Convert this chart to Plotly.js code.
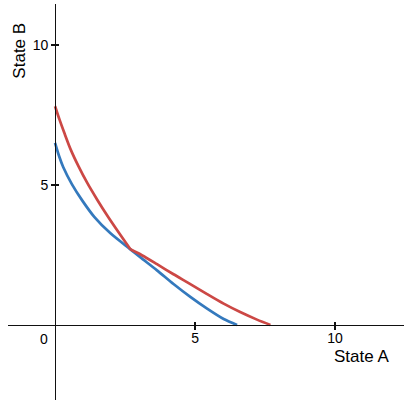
<!DOCTYPE html>
<html>
<head>
<meta charset="utf-8">
<script src="https://cdn.plot.ly/plotly-3.0.1.min.js"></script>
<style>html,body{margin:0;padding:0;background:#fff;}#chart{width:404px;height:403px;}</style>
</head>
<body>
<div id="chart"></div>
<script>
// Red curve; it has a corner where it touches the blue curve
const redX = [0, 0.16, 0.33, 0.56, 0.84, 1.15, 1.50, 1.88, 2.28, 2.69, 3.10, 3.64, 4.23, 4.83, 5.43, 6.02, 6.61, 7.21, 7.69];
const redY = [7.81, 7.33, 6.86, 6.26, 5.66, 5.07, 4.48, 3.88, 3.29, 2.70, 2.49, 2.17, 1.81, 1.46, 1.10, 0.76, 0.46, 0.19, 0];
const redCornerIndex = 9;
// Blue curve
const blueX = [0, 0.14, 0.29, 0.60, 0.98, 1.40, 1.97, 2.69, 3.04, 3.64, 4.23, 4.83, 5.43, 6.02, 6.50];
const blueY = [6.50, 6.04, 5.64, 5.03, 4.43, 3.86, 3.28, 2.70, 2.42, 1.95, 1.46, 1.00, 0.58, 0.21, 0];
const xTicks = [5, 10];
const yTicks = [5, 10];
const originLabel = "0";
const xLabel = "State A";
const yLabel = "State B";

const xRange = [-1.68, 12.46];
const yRange = [-2.68, 11.46];
const xPos = (0 - xRange[0]) / (xRange[1] - xRange[0]);
const yPos = (0 - yRange[0]) / (yRange[1] - yRange[0]);

const font = {family: "Liberation Sans, Arial, sans-serif", size: 14, color: "#000"};
const titleFont = {family: "Liberation Sans, Arial, sans-serif", size: 17, color: "#000"};

const redColor = "#cc4845";
const blueColor = "#3479bd";
const lw = 2.7;

const traces = [
  {x: blueX, y: blueY, mode: "lines", line: {color: blueColor, width: lw, shape: "spline", smoothing: 0.8}, hoverinfo: "skip"},
  {x: redX.slice(0, redCornerIndex + 1), y: redY.slice(0, redCornerIndex + 1), mode: "lines",
    line: {color: redColor, width: lw, shape: "spline", smoothing: 0.8}, hoverinfo: "skip"},
  {x: redX.slice(redCornerIndex), y: redY.slice(redCornerIndex), mode: "lines",
    line: {color: redColor, width: lw, shape: "spline", smoothing: 0.8}, hoverinfo: "skip"},
  {x: [null], y: [null], xaxis: "x2", yaxis: "y2", hoverinfo: "skip"}
];

const axisCommon = {showgrid: false, zeroline: false, showline: true, linecolor: "#111", linewidth: 1.3,
  tickcolor: "#111", tickwidth: 1.3, ticklen: 4, tickfont: font, fixedrange: true};

const layout = {
  width: 404, height: 403,
  margin: {l: 8, r: 0, t: 4, b: 3, pad: 0},
  paper_bgcolor: "#fff", plot_bgcolor: "#fff",
  showlegend: false,
  xaxis: Object.assign({}, axisCommon, {range: xRange, anchor: "free", position: yPos, ticks: "outside",
    tickmode: "array", tickvals: xTicks, ticktext: xTicks.map(String), ticklabelstandoff: -4}),
  yaxis: Object.assign({}, axisCommon, {range: yRange, anchor: "free", position: xPos, ticks: "outside",
    tickmode: "array", tickvals: yTicks, ticktext: yTicks.map(String)}),
  xaxis2: Object.assign({}, axisCommon, {range: xRange, overlaying: "x", anchor: "free", position: yPos, ticks: "inside",
    ticklen: 3, showline: false, tickmode: "array", tickvals: xTicks, showticklabels: false}),
  yaxis2: Object.assign({}, axisCommon, {range: yRange, overlaying: "y", anchor: "free", position: xPos, ticks: "inside",
    ticklen: 3, showline: false, tickmode: "array", tickvals: yTicks, showticklabels: false}),
  annotations: [
    {x: 0, y: 0, xref: "x", yref: "y", text: originLabel, showarrow: false, xanchor: "right", yanchor: "top",
      xshift: -5, yshift: -4, font: font},
    {x: 12.0, y: 0, xref: "x", yref: "y", text: xLabel, showarrow: false, xanchor: "right", yanchor: "top",
      yshift: -20, font: titleFont},
    {x: 0, y: 10.85, xref: "x", yref: "y", text: yLabel, showarrow: false, textangle: -90, xanchor: "right", yanchor: "top",
      xshift: -24, font: titleFont}
  ]
};

Plotly.newPlot("chart", traces, layout, {displayModeBar: false, staticPlot: true});
</script>
</body>
</html>
